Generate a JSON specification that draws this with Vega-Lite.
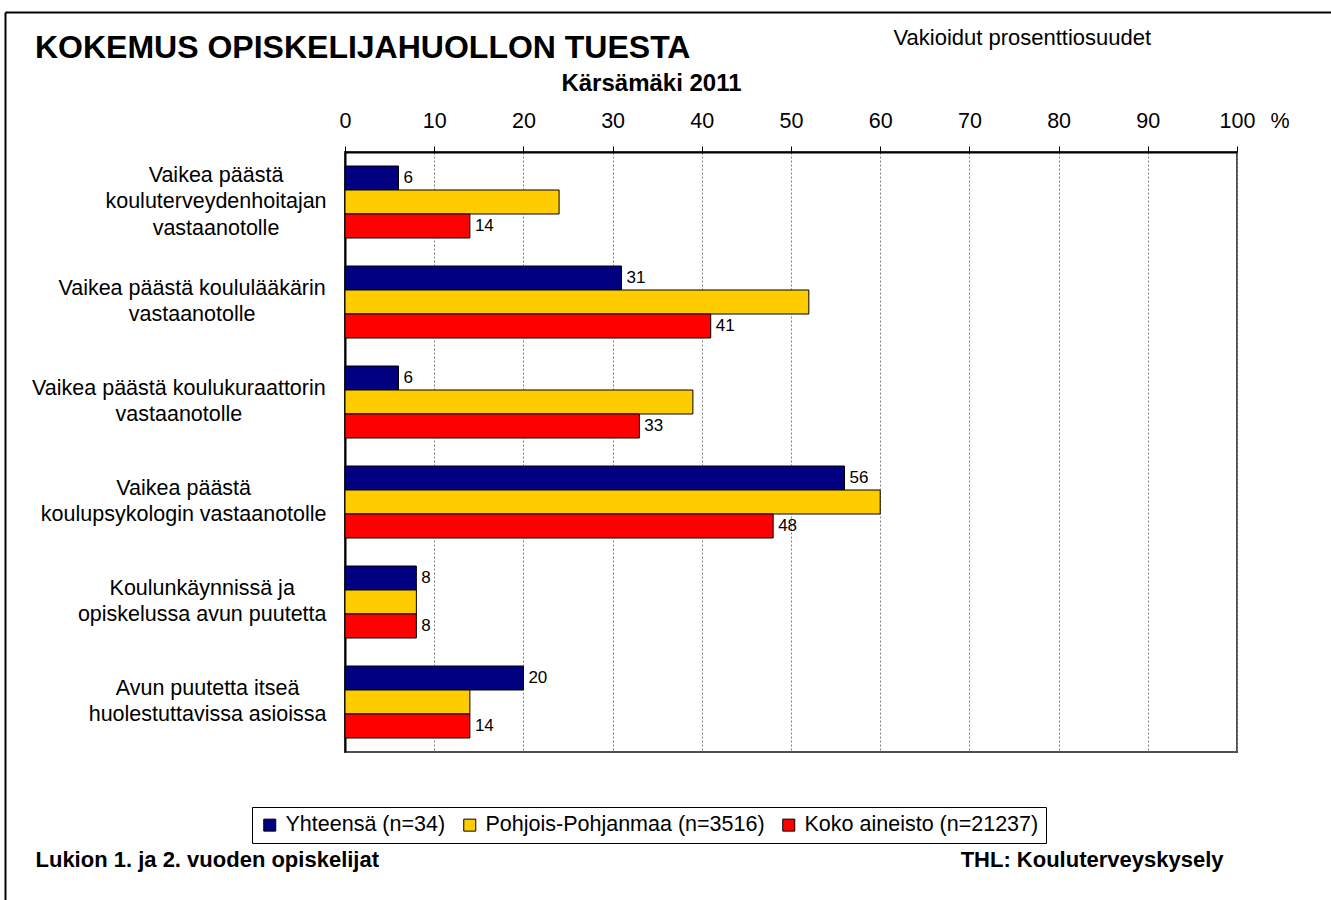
{
  "$schema": "https://vega.github.io/schema/vega-lite/v6.json",
  "width": 892,
  "height": 600,
  "autosize": {"type": "none"},
  "padding": {"left": 345, "top": 152, "right": 94, "bottom": 148},
  "background": "white",
  "config": {
    "font": "Liberation Sans",
    "view": {"stroke": "#505050", "strokeWidth": 2},
    "axis": {"labelColor": "black", "titleColor": "black", "labelFont": "Liberation Sans", "titleFont": "Liberation Sans"}
  },
  "title": {
    "text": "KOKEMUS OPISKELIJAHUOLLON TUESTA",
    "anchor": "start",
    "frame": "group",
    "fontSize": 32,
    "fontWeight": "bold",
    "color": "black",
    "baseline": "alphabetic",
    "offset": 0,
    "dx": -310,
    "dy": 78
  },
  "data": {
    "values": [
      {"cat": "Vaikea päästä|kouluterveydenhoitajan|vastaanotolle", "series": "Yhteensä (n=34)", "value": 6},
      {"cat": "Vaikea päästä|kouluterveydenhoitajan|vastaanotolle", "series": "Pohjois-Pohjanmaa (n=3516)", "value": 24},
      {"cat": "Vaikea päästä|kouluterveydenhoitajan|vastaanotolle", "series": "Koko aineisto (n=21237)", "value": 14},
      {"cat": "Vaikea päästä koululääkärin|vastaanotolle", "series": "Yhteensä (n=34)", "value": 31},
      {"cat": "Vaikea päästä koululääkärin|vastaanotolle", "series": "Pohjois-Pohjanmaa (n=3516)", "value": 52},
      {"cat": "Vaikea päästä koululääkärin|vastaanotolle", "series": "Koko aineisto (n=21237)", "value": 41},
      {"cat": "Vaikea päästä koulukuraattorin|vastaanotolle", "series": "Yhteensä (n=34)", "value": 6},
      {"cat": "Vaikea päästä koulukuraattorin|vastaanotolle", "series": "Pohjois-Pohjanmaa (n=3516)", "value": 39},
      {"cat": "Vaikea päästä koulukuraattorin|vastaanotolle", "series": "Koko aineisto (n=21237)", "value": 33},
      {"cat": "Vaikea päästä|koulupsykologin vastaanotolle", "series": "Yhteensä (n=34)", "value": 56},
      {"cat": "Vaikea päästä|koulupsykologin vastaanotolle", "series": "Pohjois-Pohjanmaa (n=3516)", "value": 60},
      {"cat": "Vaikea päästä|koulupsykologin vastaanotolle", "series": "Koko aineisto (n=21237)", "value": 48},
      {"cat": "Koulunkäynnissä ja|opiskelussa avun puutetta", "series": "Yhteensä (n=34)", "value": 8},
      {"cat": "Koulunkäynnissä ja|opiskelussa avun puutetta", "series": "Pohjois-Pohjanmaa (n=3516)", "value": 8},
      {"cat": "Koulunkäynnissä ja|opiskelussa avun puutetta", "series": "Koko aineisto (n=21237)", "value": 8},
      {"cat": "Avun puutetta itseä|huolestuttavissa asioissa", "series": "Yhteensä (n=34)", "value": 20},
      {"cat": "Avun puutetta itseä|huolestuttavissa asioissa", "series": "Pohjois-Pohjanmaa (n=3516)", "value": 14},
      {"cat": "Avun puutetta itseä|huolestuttavissa asioissa", "series": "Koko aineisto (n=21237)", "value": 14}
    ]
  },
  "layer": [
    {
      "encoding": {
        "y": {
          "field": "cat", "type": "nominal", "sort": null,
          "scale": {"paddingInner": 0.28, "paddingOuter": 0.14},
          "axis": {
            "orient": "left",
            "labelExpr": "split(datum.label, '|')",
            "labelAlign": "center",
            "labelBaseline": "middle",
            "labelPadding": {
              "condition": [
                {"test": "indexof(datum.value, 'kouluterveydenhoitajan') >= 0", "value": 129.5},
                {"test": "indexof(datum.value, 'koululääkärin') >= 0", "value": 153.4},
                {"test": "indexof(datum.value, 'koulukuraattorin') >= 0", "value": 166.6},
                {"test": "indexof(datum.value, 'koulupsykologin') >= 0", "value": 161.8},
                {"test": "indexof(datum.value, 'Koulunkäynnissä') >= 0", "value": 143.3}
              ],
              "value": 137.9
            },
            "labelOffset": {
              "condition": {"test": "length(split(datum.value, '|')) === 3", "value": -26.5},
              "value": -13.25
            },
            "labelFontSize": 21.5,
            "labelLineHeight": 26.5,
            "labelLimit": 0,
            "ticks": false,
            "tickSize": 0,
            "domain": true,
            "domainColor": "black",
            "domainWidth": 2,
            "grid": false,
            "title": "Lukion 1. ja 2. vuoden opiskelijat",
            "titleX": -310,
            "titleY": 714,
            "titleAngle": 0,
            "titleAlign": "left",
            "titleBaseline": "alphabetic",
            "titleFontSize": 22,
            "titleFontWeight": "bold"
          }
        },
        "yOffset": {"field": "series", "type": "nominal", "sort": null, "scale": {"paddingInner": 0, "paddingOuter": 0}},
        "x": {
          "field": "value", "type": "quantitative",
          "scale": {"domain": [0, 100], "nice": false},
          "axis": {
            "orient": "top",
            "values": [0, 10, 20, 30, 40, 50, 60, 70, 80, 90, 100],
            "labelExpr": "datum.value === 100 ? '100\u2002\u2009%' : datum.label",
            "labelAlign": {"condition": {"test": "datum.value === 100", "value": "left"}, "value": "center"},
            "labelOffset": {"condition": {"test": "datum.value === 100", "value": -18}, "value": 0},
            "labelBaseline": "alphabetic",
            "labelPadding": 19,
            "labelFontSize": 21.5,
            "labelFlush": false,
            "labelOverlap": false,
            "tickSize": 6,
            "tickColor": "black",
            "tickWidth": 1,
            "domainColor": "black",
            "domainWidth": 2,
            "grid": true,
            "gridColor": "#808080",
            "gridDash": [2, 2],
            "gridWidth": 1,
            "title": "Kärsämäki 2011",
            "titleX": 306,
            "titleY": -62,
            "titleAlign": "center",
            "titleBaseline": "alphabetic",
            "titleFontSize": 24,
            "titleFontWeight": "bold"
          }
        }
      },
      "layer": [
        {
          "mark": {"type": "bar", "stroke": "black", "strokeWidth": 1},
          "encoding": {
            "color": {
              "field": "series", "type": "nominal", "sort": null,
              "scale": {
                "domain": ["Yhteensä (n=34)", "Pohjois-Pohjanmaa (n=3516)", "Koko aineisto (n=21237)"],
                "range": ["#000080", "#FFCC00", "#FF0000"]
              },
              "legend": {
                "orient": "none",
                "legendX": -93,
                "legendY": 655,
                "direction": "horizontal",
                "title": null,
                "strokeColor": "black",
                "padding": 7,
                "symbolType": "square",
                "symbolSize": 144,
                "symbolStrokeColor": "black",
                "symbolStrokeWidth": 1,
                "symbolOpacity": 1,
                "labelFontSize": 21.5,
                "labelColor": "black",
                "labelOffset": 5,
                "labelLimit": 0,
                "columnPadding": 13
              }
            }
          }
        },
        {
          "mark": {"type": "text", "align": "left", "baseline": "middle", "dx": 5, "fontSize": 17, "color": "black"},
          "encoding": {
            "text": {
              "condition": {"test": "datum.series === 'Pohjois-Pohjanmaa (n=3516)'", "value": ""},
              "field": "value", "type": "quantitative"
            }
          }
        }
      ]
    },
    {
      "mark": {"type": "point", "opacity": 0},
      "encoding": {
        "x": {
          "field": "value", "type": "quantitative",
          "scale": {"domain": [0, 100], "range": [-340, 1000], "nice": false},
          "axis": {
            "orient": "bottom",
            "offset": -740,
            "domainColor": "black",
            "domainWidth": 2,
            "ticks": false,
            "labels": false,
            "grid": false,
            "title": "Vakioidut prosenttiosuudet",
            "titleX": 548,
            "titleY": 32,
            "titleAngle": 0,
            "titleAlign": "left",
            "titleBaseline": "alphabetic",
            "titleFontSize": 22,
            "titleFontWeight": "normal"
          }
        },
        "y": {
          "field": "cat", "type": "nominal", "sort": null,
          "scale": {"range": [-140, 760]},
          "axis": {
            "orient": "right",
            "offset": -1232,
            "domainColor": "black",
            "domainWidth": 2,
            "ticks": false,
            "labels": false,
            "grid": false,
            "title": "THL: Kouluterveyskysely",
            "titleX": 1218,
            "titleY": 714,
            "titleAngle": 0,
            "titleAlign": "right",
            "titleBaseline": "alphabetic",
            "titleFontSize": 22,
            "titleFontWeight": "bold"
          }
        }
      }
    }
  ],
  "resolve": {
    "scale": {"x": "independent", "y": "independent"},
    "axis": {"x": "independent", "y": "independent"}
  }
}
